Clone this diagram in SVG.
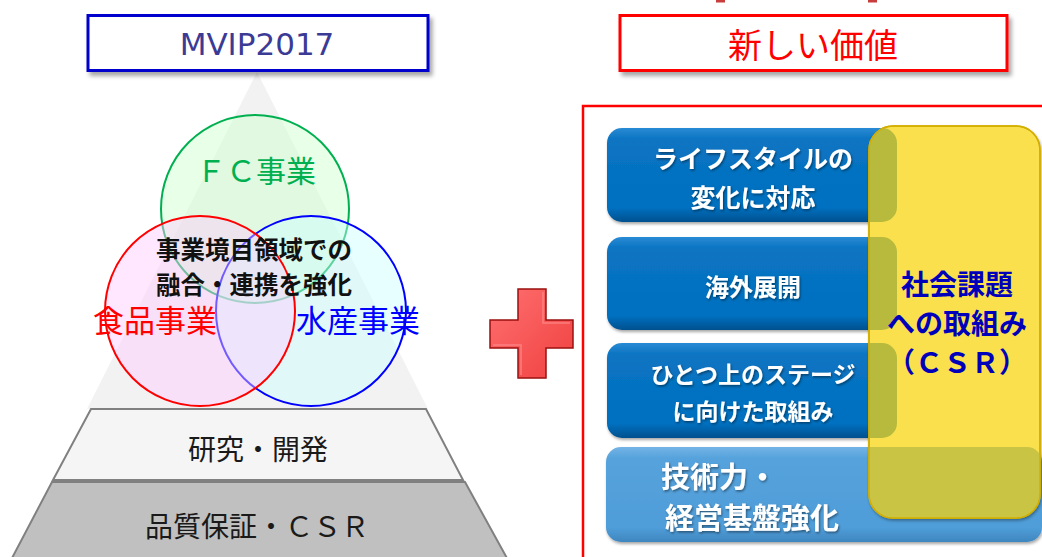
<svg xmlns="http://www.w3.org/2000/svg" width="1042" height="557" viewBox="0 0 1042 557">
<defs>
<style>
.jp{font-family:"Noto Sans CJK JP","Noto Sans",sans-serif}
.b{font-weight:bold}
.btn{fill:url(#gBlue)}
.btnTxt{fill:#fff;font-weight:bold;font-family:"Noto Sans CJK JP",sans-serif;text-anchor:middle;filter:url(#ts)}
.c{text-anchor:middle}
</style>
<filter id="sh" x="-10%" y="-20%" width="130%" height="160%">
<feDropShadow dx="3" dy="4" stdDeviation="2" flood-color="#000" flood-opacity="0.35"/>
</filter>
<filter id="bs" x="-5%" y="-10%" width="115%" height="130%">
<feDropShadow dx="1" dy="2" stdDeviation="1.5" flood-color="#000" flood-opacity="0.35"/>
</filter>
<filter id="ts" x="-5%" y="-20%" width="115%" height="150%">
<feDropShadow dx="1" dy="1.5" stdDeviation="1" flood-color="#000" flood-opacity="0.45"/>
</filter>
<linearGradient id="gBlue" x1="0" y1="0" x2="0" y2="1">
<stop offset="0" stop-color="#2a8ad4"/>
<stop offset="0.12" stop-color="#0a74c2"/>
<stop offset="0.85" stop-color="#0070C0"/>
<stop offset="1" stop-color="#00508e"/>
</linearGradient>
<linearGradient id="gLight" x1="0" y1="0" x2="0" y2="1">
<stop offset="0" stop-color="#74b4e6"/>
<stop offset="0.12" stop-color="#55a2dc"/>
<stop offset="0.85" stop-color="#4f9dd9"/>
<stop offset="1" stop-color="#3f86bf"/>
</linearGradient>
<linearGradient id="gPlus" x1="0" y1="0" x2="1" y2="1">
<stop offset="0" stop-color="#ff7070"/>
<stop offset="1" stop-color="#f04040"/>
</linearGradient>
<clipPath id="yclip"><rect x="869" y="126" width="171" height="392" rx="24"/></clipPath>
</defs>
<rect width="1042" height="557" fill="#fff"/>

<!-- top remnants -->
<rect x="716" y="0" width="9" height="2.5" fill="#c83c3c"/>
<rect x="868" y="0" width="9" height="2.5" fill="#c83c3c"/>

<!-- Left: pyramid -->
<g id="pyramid-top">
<polygon points="257,72 87,409 428,409" fill="#F2F2F2"/>
</g>

<g id="mvip">
<rect x="88" y="15.5" width="340" height="55" fill="#fff" stroke="#0000CC" stroke-width="3" filter="url(#sh)"/>
<text x="257" y="55" class="c" font-family="DejaVu Sans, Verdana, sans-serif" font-size="31" fill="#3b3b96">MVIP2017</text>
</g>

<g id="circle-fc">
<circle cx="255" cy="209" r="94" fill="#CCFFCC" fill-opacity="0.45" stroke="#00B050" stroke-width="2"/>
</g>
<g id="circle-water">
<circle cx="311" cy="311" r="95" fill="#CCFFFF" fill-opacity="0.45" stroke="#0000FF" stroke-width="2"/>
</g>
<g id="circle-food">
<circle cx="200" cy="311" r="95" fill="#FFCCFF" fill-opacity="0.45" stroke="#FF0000" stroke-width="2"/>
</g>
<g id="labels-circles">
<text x="256" y="182" class="jp c" font-size="30" fill="#00B050">ＦＣ事業</text>
<text x="155" y="332" class="jp c" font-size="31" fill="#FF0000">食品事業</text>
<text x="358" y="332" class="jp c" font-size="31" fill="#0000FF">水産事業</text>
<text class="jp c b" font-size="24.5" fill="#111"><tspan x="254" y="259">事業境目領域での</tspan><tspan x="254" y="294">融合・連携を強化</tspan></text>
</g>

<g id="band-rd">
<polygon points="91,409 426,409 463,480 53,480" fill="#F5F5F5" stroke="#808080" stroke-width="2"/>
<text x="258" y="460" class="jp c" font-size="28" fill="#1a1a1a">研究・開発</text>
</g>
<g id="band-qa">
<polygon points="52,482 465,482 508,560 11,560" fill="#C0C0C0" stroke="#808080" stroke-width="2"/>
<text x="257" y="537" class="jp c" font-size="28" fill="#1a1a1a">品質保証・ＣＳＲ</text>
</g>

<!-- plus -->
<g id="plus">
<polygon points="518,289 546,289 546,320 573,320 573,348 546,348 546,378 518,378 518,348 490,348 490,320 518,320" fill="url(#gPlus)" stroke="#9a1010" stroke-width="1.5"/>
<polyline points="521,375 521,345 493,345" fill="none" stroke="#ff9a9a" stroke-width="1.5" opacity="0.6"/>
<polyline points="543,292 543,323 570,323" fill="none" stroke="#ff9a9a" stroke-width="1.5" opacity="0.6"/>
</g>

<!-- Right -->
<g id="new-value">
<rect x="620" y="15.5" width="387" height="55" fill="#fff" stroke="#FF0000" stroke-width="3" filter="url(#sh)"/>
<text x="813" y="58" class="jp c" font-size="34" fill="#FF0000">新しい価値</text>
</g>

<g id="frame">
<rect x="583" y="106" width="520" height="520" fill="none" stroke="#FF0000" stroke-width="2.5"/>
</g>

<g id="btn-lifestyle">
<rect x="607" y="128" width="290" height="94" rx="15" class="btn" filter="url(#bs)"/>
<text class="btnTxt" font-size="25"><tspan x="753" y="168">ライフスタイルの</tspan><tspan x="753" y="207">変化に対応</tspan></text>
</g>
<g id="btn-overseas">
<rect x="607" y="237" width="290" height="93" rx="15" class="btn" filter="url(#bs)"/>
<text x="753" y="296" class="btnTxt" font-size="24">海外展開</text>
</g>
<g id="btn-stage">
<rect x="607" y="343" width="290" height="95" rx="15" class="btn" filter="url(#bs)"/>
<text class="btnTxt" font-size="23"><tspan x="753" y="383">ひとつ上のステージ</tspan><tspan x="753" y="420">に向けた取組み</tspan></text>
</g>
<g id="btn-tech">
<rect x="606" y="447" width="436" height="95" rx="15" fill="url(#gLight)" filter="url(#bs)"/>
<text class="btnTxt" font-size="29"><tspan x="719" y="488">技術力・</tspan><tspan x="752" y="529">経営基盤強化</tspan></text>
</g>

<g id="csr">
<rect x="869" y="126" width="171" height="392" rx="24" fill="#FAE04E" stroke="#D2AE00" stroke-width="1.5" filter="url(#bs)"/>
<g clip-path="url(#yclip)">
<rect x="607" y="128" width="290" height="94" rx="15" fill="#B7BA3C"/>
<rect x="607" y="237" width="290" height="93" rx="15" fill="#B7BA3C"/>
<rect x="607" y="343" width="290" height="95" rx="15" fill="#B7BA3C"/>
<rect x="606" y="447" width="436" height="95" rx="15" fill="#CAC444"/>
</g>
<rect x="869" y="126" width="171" height="392" rx="24" fill="none" stroke="#D2AE00" stroke-width="1.5"/>
<text class="jp c b" font-size="28" fill="#0000BB"><tspan x="957" y="295">社会課題</tspan><tspan x="957" y="334">への取組み</tspan><tspan x="957" y="373">（ＣＳＲ）</tspan></text>
</g>
</svg>
